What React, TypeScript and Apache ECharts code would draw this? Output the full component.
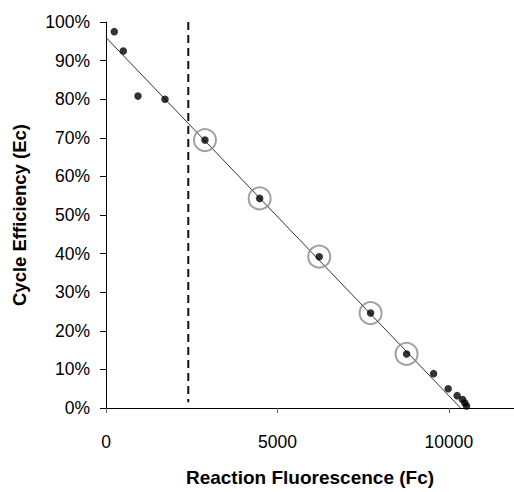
import React, { useEffect, useRef } from "react";
import * as echarts from "echarts";

// Measured data points (Reaction Fluorescence Fc, Cycle Efficiency Ec)
const fluorescence = [242, 504, 933, 1720, 2886, 4481, 6219, 7717, 8767, 9554, 9980, 10242, 10399, 10466, 10516];
const efficiency = [0.975, 0.925, 0.808, 0.800, 0.694, 0.543, 0.392, 0.246, 0.140, 0.089, 0.050, 0.032, 0.022, 0.013, 0.005];
// indices of highlighted (circled) points
const circledIdx = [4, 5, 6, 7, 8];
// trend line endpoints
const trendX = [0, 10341];
const trendY = [0.96, 0];
// dashed threshold line
const thresholdX = 2400;
const thresholdY = [1.0, 0.015];
const xTicks = [0, 5000, 10000];

export default function App() {
  const ref = useRef<HTMLDivElement>(null);
  useEffect(() => {
    if (!ref.current) return;
    const chart = echarts.init(ref.current, null, { renderer: "svg" });
    const points = fluorescence.map((x, i) => [x, efficiency[i]]);
    const circled = circledIdx.map((i) => points[i]);
    const font = "'Liberation Sans', Arial, sans-serif";
    chart.setOption({
      animation: false,
      backgroundColor: "#ffffff",
      grid: { left: 106, right: 0, top: 22, bottom: 75 },
      xAxis: {
        type: "value",
        min: 0,
        max: 11900,
        interval: 5000,
        name: "Reaction Fluorescence (Fc)",
        nameLocation: "middle",
        nameGap: 60,
        nameTextStyle: { fontFamily: font, fontWeight: "bold", fontSize: 19, color: "#000" },
        splitLine: { show: false },
        axisLine: { show: true, lineStyle: { color: "#000", width: 1 } },
        axisTick: { show: true, length: 5, lineStyle: { color: "#666" }, customValues: xTicks },
        axisLabel: {
          fontFamily: font,
          fontSize: 17.5,
          color: "#000",
          margin: 25,
          customValues: xTicks,
          formatter: (v: number) => String(v),
        },
      },
      yAxis: {
        type: "value",
        min: 0,
        max: 1,
        interval: 0.1,
        name: "Cycle Efficiency (Ec)",
        nameLocation: "middle",
        nameGap: 77,
        nameTextStyle: { fontFamily: font, fontWeight: "bold", fontSize: 18.5, color: "#000" },
        splitLine: { show: false },
        axisLine: { show: true, lineStyle: { color: "#000", width: 1 } },
        axisTick: { show: true, length: 6, lineStyle: { color: "#000" } },
        axisLabel: {
          fontFamily: font,
          fontSize: 17.5,
          color: "#000",
          margin: 16,
          formatter: (v: number) => Math.round(v * 100) + "%",
        },
      },
      series: [
        {
          type: "line",
          data: [[trendX[0], trendY[0]], [trendX[1], trendY[1]]],
          symbol: "none",
          lineStyle: { color: "#333", width: 1 },
          z: 2,
        },
        {
          type: "line",
          data: [[thresholdX, thresholdY[0]], [thresholdX, thresholdY[1]]],
          symbol: "none",
          lineStyle: { color: "#111", width: 2, type: [8, 5] },
          z: 2,
        },
        {
          type: "scatter",
          data: circled,
          symbol: "circle",
          symbolSize: 22,
          itemStyle: { color: "rgba(0,0,0,0)", borderColor: "#8a8a8a", borderWidth: 2 },
          z: 3,
        },
        {
          type: "scatter",
          data: points,
          symbol: "circle",
          symbolSize: 7.5,
          itemStyle: { color: "#000" },
          z: 4,
        },
      ],
    });
    return () => chart.dispose();
  }, []);
  return (
    <div
      ref={ref}
      style={{ position: "fixed", left: 0, top: 0, width: 514, height: 492 }}
    />
  );
}
